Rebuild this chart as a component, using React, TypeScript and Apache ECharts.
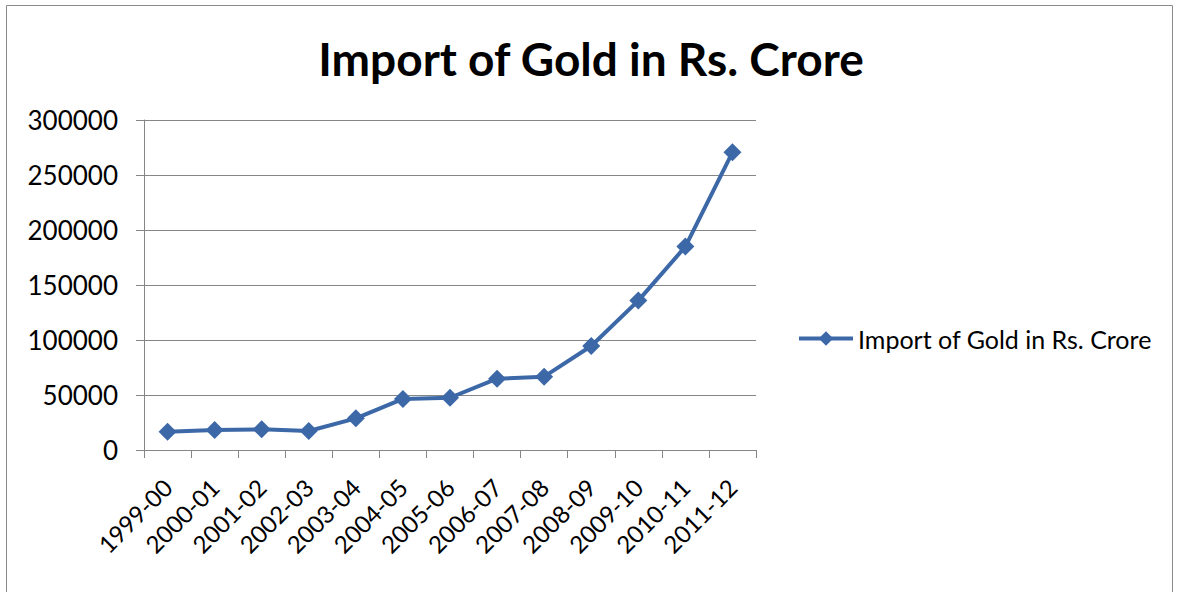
import React, { useEffect, useRef } from "react";
import * as echarts from "echarts";

const categories = [
  "1999-00", "2000-01", "2001-02", "2002-03", "2003-04", "2004-05", "2005-06",
  "2006-07", "2007-08", "2008-09", "2009-10", "2010-11", "2011-12",
];
const goldImports = [
  16700, 18200, 18800, 17300, 28800, 46400, 47500, 64800, 66700, 94500, 135800, 184900, 270600,
];
const seriesName = "Import of Gold in Rs. Crore";
const titleText = "Import of Gold in Rs. Crore";

const FONT = "Lato, 'Open Sans', sans-serif";
const BLUE = "#3c68a8";

export default function App() {
  const ref = useRef<HTMLDivElement>(null);
  useEffect(() => {
    if (!ref.current) return;
    const chart = echarts.init(ref.current, null, { renderer: "svg" });
    chart.setOption({
      animation: false,
      backgroundColor: "#ffffff",
      title: {
        text: titleText,
        left: 586,
        textAlign: "center",
        top: 30,
        textStyle: { fontFamily: FONT, fontSize: 46, fontWeight: "bold", color: "#000" },
      },
      graphic: [
        {
          type: "rect",
          shape: { x: 6.5, y: 5.5, width: 1166, height: 600 },
          style: { fill: "none", stroke: "#8a8a8a", lineWidth: 1 },
          silent: true,
        },
      ],
      legend: {
        data: [seriesName],
        left: 792,
        top: 321,
        itemWidth: 54,
        itemHeight: 18,
        itemGap: 4,
        lineStyle: { width: 4 },
        textStyle: { fontFamily: FONT, fontSize: 25, color: "#000" },
      },
      grid: { left: 144, right: 422, top: 120, bottom: 142, containLabel: false },
      xAxis: {
        type: "category",
        data: categories,
        boundaryGap: true,
        axisLine: { show: true, lineStyle: { color: "#868686", width: 1 } },
        axisTick: { show: true, alignWithLabel: false, length: 8, lineStyle: { color: "#868686" } },
        axisLabel: {
          rotate: 45,
          interval: 0,
          margin: 33,
          fontFamily: FONT,
          fontSize: 24,
          color: "#000",
        },
      },
      yAxis: {
        type: "value",
        min: 0,
        max: 300000,
        interval: 50000,
        axisLine: { show: true, lineStyle: { color: "#868686", width: 1 } },
        axisTick: { show: true, inside: false, length: 8, lineStyle: { color: "#868686" } },
        splitLine: { show: true, lineStyle: { color: "#868686", width: 1 } },
        axisLabel: {
          margin: 26,
          fontFamily: FONT,
          fontSize: 26,
          color: "#000",
          formatter: (v: number) => String(v),
        },
      },
      series: [
        {
          name: seriesName,
          type: "line",
          data: goldImports,
          symbol: "diamond",
          symbolSize: 18,
          lineStyle: { color: BLUE, width: 4 },
          itemStyle: { color: BLUE },
        },
      ],
    });
    return () => chart.dispose();
  }, []);
  return (
    <div
      ref={ref}
      style={{ position: "fixed", left: 0, top: 0, width: 1178, height: 592 }}
    />
  );
}
